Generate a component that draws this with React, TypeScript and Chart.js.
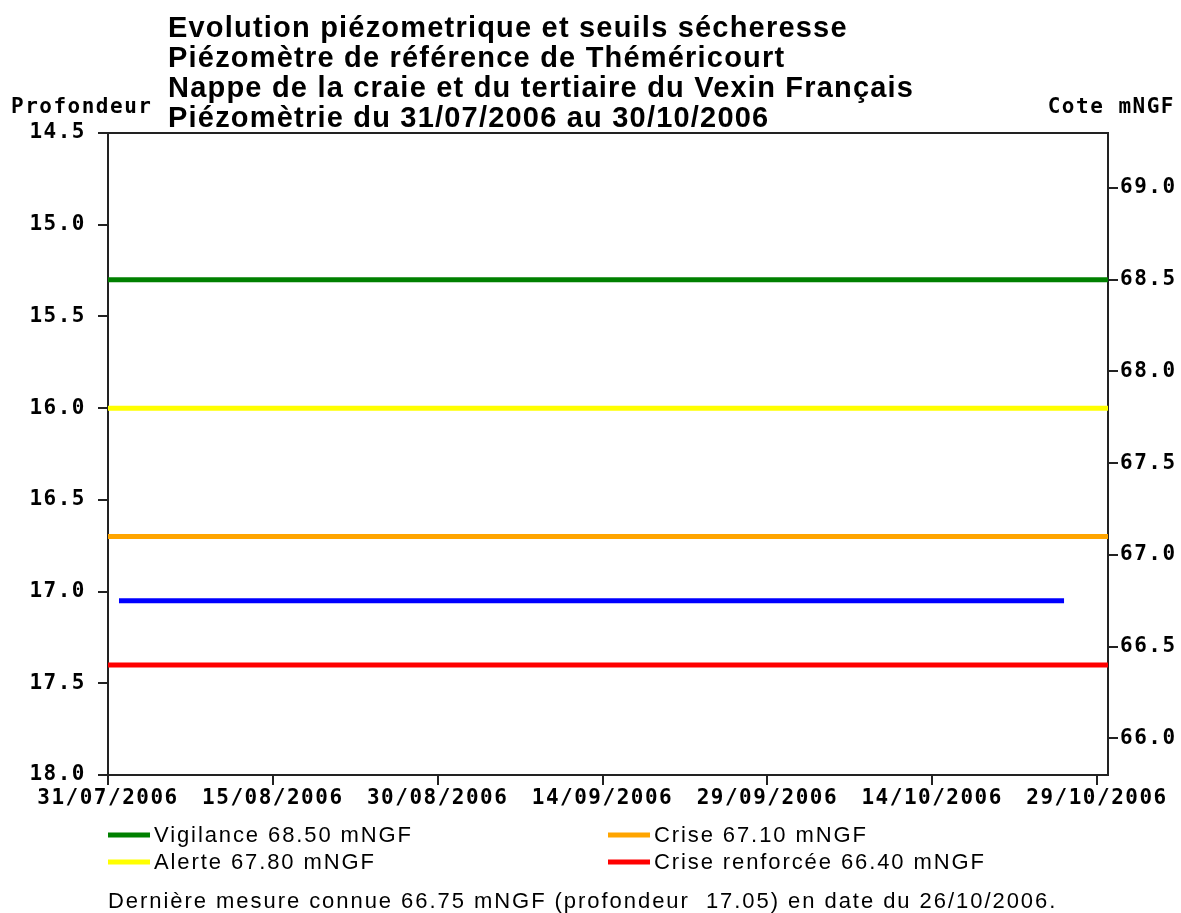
import React, { useEffect, useRef } from "react";
import { Chart, registerables } from "chart.js";

Chart.register(...registerables);

// ---- data ----
const titleLines = [
  "Evolution piézometrique et seuils sécheresse",
  "Piézomètre de référence de Théméricourt",
  "Nappe de la craie et du tertiaire du Vexin Français",
  "Piézomètrie du 31/07/2006 au 30/10/2006",
];
const leftAxisTitle = "Profondeur";
const rightAxisTitle = "Cote mNGF";
const periodStart = "31/07/2006";
const periodEnd = "30/10/2006";
const xTickLabels = ["31/07/2006", "15/08/2006", "30/08/2006", "14/09/2006", "29/09/2006", "14/10/2006", "29/10/2006"];
const depthTicks = [14.5, 15.0, 15.5, 16.0, 16.5, 17.0, 17.5, 18.0];
const coteTicks = [66.0, 66.5, 67.0, 67.5, 68.0, 68.5, 69.0];
const depthMin = 14.5;
const depthMax = 18.0;
const coteMin = 65.8;
const coteMax = 69.3;
const thresholdNames = ["Vigilance", "Alerte", "Crise", "Crise renforcée"];
const thresholdValues = [68.5, 67.8, 67.1, 66.4];
const thresholdColors = ["#008000", "#ffff00", "#ffa500", "#ff0000"];
const piezoDates = ["01/08/2006", "15/08/2006", "01/09/2006", "15/09/2006", "01/10/2006", "15/10/2006", "26/10/2006"];
const piezoDepths = [17.05, 17.05, 17.05, 17.05, 17.05, 17.05, 17.05];
const piezoColor = "#0000ff";
const footerText = "Dernière mesure connue 66.75 mNGF (profondeur  17.05) en date du 26/10/2006.";

// ---- helpers ----
const DAY = 86400000;
const parseDate = (s: string) => {
  const [d, m, y] = s.split("/").map(Number);
  return Date.UTC(y, m - 1, d);
};
const origin = parseDate(periodStart);
const toDay = (s: string) => Math.round((parseDate(s) - origin) / DAY);
const fmtDay = (v: number) => {
  const dt = new Date(origin + v * DAY);
  const dd = String(dt.getUTCDate()).padStart(2, "0");
  const mm = String(dt.getUTCMonth() + 1).padStart(2, "0");
  return `${dd}/${mm}/${dt.getUTCFullYear()}`;
};

const MONO = "'DejaVu Sans Mono', monospace";
const SANS = "'Liberation Sans', Arial, sans-serif";

const textPlugin = {
  id: "texts",
  beforeDraw(chart: any) {
    const ctx = chart.ctx;
    ctx.save();
    ctx.fillStyle = "#ffffff";
    ctx.fillRect(0, 0, chart.width, chart.height);
    ctx.restore();
    ctx.letterSpacing = "1.5px";
  },
  afterDraw(chart: any) {
    const ctx = chart.ctx;
    const area = chart.chartArea;
    ctx.save();
    // frame top line
    ctx.strokeStyle = "#222";
    ctx.lineWidth = 2;
    ctx.beginPath();
    ctx.moveTo(area.left, area.top);
    ctx.lineTo(area.right, area.top);
    ctx.stroke();

    // title
    ctx.fillStyle = "#000";
    ctx.textBaseline = "alphabetic";
    ctx.textAlign = "left";
    ctx.font = `bold 29px ${SANS}`;
    ctx.letterSpacing = "1.2px";
    titleLines.forEach((t, i) => ctx.fillText(t, 168, 37 + i * 30));

    // axis titles
    ctx.font = `bold 21px ${MONO}`;
    ctx.letterSpacing = "1.5px";
    ctx.fillText(leftAxisTitle, 11, 113);
    ctx.textAlign = "right";
    ctx.fillText(rightAxisTitle, 1175, 113);

    // legend
    ctx.textAlign = "left";
    ctx.font = `22px ${SANS}`;
    ctx.letterSpacing = "1.9px";
    const colX = [area.left, area.left + 500];
    const rowY = [842, 869];
    thresholdNames.forEach((name, i) => {
      const col = Math.floor(i / 2);
      const row = i % 2;
      const x = colX[col];
      const y = rowY[row];
      ctx.strokeStyle = thresholdColors[i];
      ctx.lineWidth = 5;
      ctx.beginPath();
      ctx.moveTo(x, y - 7);
      ctx.lineTo(x + 42, y - 7);
      ctx.stroke();
      ctx.fillText(`${name} ${thresholdValues[i].toFixed(2)} mNGF`, x + 46, y);
    });

    // footer
    ctx.font = `22px ${SANS}`;
    ctx.letterSpacing = "1.95px";
    ctx.fillText(footerText, area.left, 908);
    ctx.restore();
    ctx.letterSpacing = "0px";
  },
};

export default function App() {
  const ref = useRef<HTMLCanvasElement>(null);
  useEffect(() => {
    if (!ref.current) return;
    const xMin = toDay(periodStart);
    const xMax = toDay(periodEnd);
    const datasets: any[] = thresholdNames.map((name, i) => ({
      label: name,
      data: [
        { x: xMin, y: thresholdValues[i] },
        { x: xMax, y: thresholdValues[i] },
      ],
      yAxisID: "yR",
      borderColor: thresholdColors[i],
      borderWidth: 5,
      pointRadius: 0,
      borderCapStyle: "butt",
    }));
    datasets.push({
      label: "Piézométrie",
      data: piezoDates.map((d, i) => ({ x: toDay(d), y: piezoDepths[i] })),
      yAxisID: "y",
      borderColor: piezoColor,
      borderWidth: 5,
      pointRadius: 0,
      borderCapStyle: "butt",
    });
    const tickFont = { family: MONO, size: 21, weight: "bold" as const };
    const gridCfg = { drawOnChartArea: false, drawTicks: true, tickLength: 10, color: "#222", lineWidth: 2 };
    const borderCfg = { display: true, color: "#222", width: 2 };
    const chart = new Chart(ref.current, {
      type: "line",
      data: { datasets },
      plugins: [textPlugin],
      options: {
        animation: false,
        responsive: false,
        devicePixelRatio: 1,
        layout: { padding: { top: 133, left: 0, right: 0, bottom: 0 } },
        plugins: { legend: { display: false }, title: { display: false }, tooltip: { enabled: false } },
        scales: {
          x: {
            type: "linear",
            position: "bottom",
            min: xMin,
            max: xMax,
            grid: gridCfg,
            border: borderCfg,
            ticks: {
              color: "#000",
              font: tickFont,
              padding: 1,
              maxRotation: 0,
              autoSkip: false,
              callback: (v: any) => fmtDay(Number(v)),
            },
            afterBuildTicks: (s: any) => {
              s.ticks = xTickLabels.map((l) => ({ value: toDay(l) }));
            },
            afterFit: (s: any) => {
              s.height = 138;
            },
          },
          y: {
            type: "linear",
            position: "left",
            reverse: true,
            min: depthMin,
            max: depthMax,
            grid: gridCfg,
            border: borderCfg,
            ticks: { color: "#000", font: tickFont, padding: 12, callback: (v: any) => Number(v).toFixed(1) },
            afterBuildTicks: (s: any) => {
              s.ticks = depthTicks.map((v) => ({ value: v }));
            },
            afterFit: (s: any) => {
              s.width = 108;
            },
          },
          yR: {
            type: "linear",
            position: "right",
            min: coteMin,
            max: coteMax,
            grid: gridCfg,
            border: borderCfg,
            ticks: { color: "#000", font: tickFont, padding: 2, callback: (v: any) => Number(v).toFixed(1) },
            afterBuildTicks: (s: any) => {
              s.ticks = coteTicks.map((v) => ({ value: v }));
            },
            afterFit: (s: any) => {
              s.width = 73;
            },
          },
        },
      } as any,
    });
    return () => chart.destroy();
  }, []);
  return (
    <div style={{ position: "absolute", left: 0, top: 0, width: 1181, height: 913, background: "#fff" }}>
      <canvas ref={ref} width={1181} height={913} style={{ width: 1181, height: 913, display: "block" }} />
    </div>
  );
}
